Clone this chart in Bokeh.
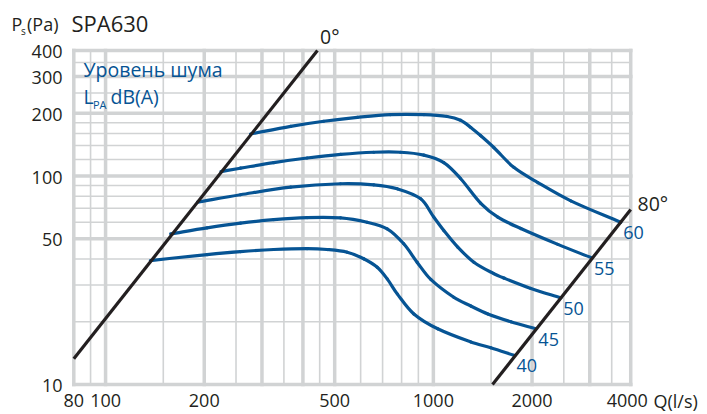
import math
from bokeh.plotting import figure
from bokeh.models import Label
from bokeh.embed import file_html
from bokeh.resources import INLINE

# ---------------- data ----------------
x_ticks = [80, 100, 200, 500, 1000, 2000, 4000]
y_ticks = [10, 50, 100, 200, 300, 400]
x_grid_major = [80, 100, 200, 300, 400, 500, 1000, 2000, 3000, 4000]
x_grid_minor = [90, 150, 250, 350, 450, 600, 700, 800, 900, 1500, 2500, 3500]
y_grid_major = [10, 50, 100, 200, 300, 400]
y_grid_minor = [20, 30, 40, 60, 70, 80, 90, 120, 140, 160, 180, 250, 350]

# system lines (damper 0 deg and 80 deg)
q_0deg = [80, 443]
p_0deg = [13.3, 400]
q_80deg = [1515, 4000]
p_80deg = [10, 69]

# noise level curves LpA dB(A)
levels = ["40", "45", "50", "55", "60"]
q40 = [137, 204, 258, 326, 412, 474, 546, 613, 674, 723, 776, 872, 1031, 1301, 1497, 1762]
p40 = [39.3, 42.0, 43.4, 44.4, 44.8, 44.4, 43.1, 40.1, 36.5, 32.1, 27.2, 21.8, 18.5, 16.0, 15.0, 13.8]
q45 = [158, 204, 258, 326, 412, 521, 628, 723, 812, 893, 982, 1154, 1301, 1466, 1723, 2054]
p45 = [52.8, 56.4, 59.4, 61.8, 63.2, 63.0, 60.0, 55.8, 47.3, 38.5, 31.9, 26.2, 23.8, 21.8, 20.0, 18.5]
q50 = [191, 258, 367, 521, 658, 776, 915, 1003, 1076, 1187, 1329, 1529, 1640, 1983, 2448]
p50 = [75.0, 81.3, 88.4, 91.8, 90.7, 86.8, 77.7, 63.5, 54.8, 45.6, 38.6, 34.0, 32.4, 28.9, 26.0]
q55 = [225, 258, 326, 412, 521, 658, 794, 935, 1076, 1210, 1395, 1573, 1848, 2397, 3037]
p55 = [105, 109, 116, 122, 127, 130, 130, 126, 116, 97.3, 74, 63.5, 56, 47, 40.5]
q60 = [277, 367, 463, 586, 740, 935, 1102, 1210, 1301, 1395, 1529, 1759, 2083, 2626, 3730]
p60 = [159, 173, 183, 191, 197, 197, 193, 185, 171, 156, 137, 110, 93, 76, 60]
curves_q = [q40, q45, q50, q55, q60]
curves_p = [p40, p45, p50, p55, p60]

# ---------------- styles / layout ----------------
BLUE = "#065494"
DARK = "#231f20"
GRID = "#d1d3d4"
FONT = "Open Sans"
W, H = 707, 414
X80_PX, XPD = 73.3, 327.8      # pixel of Q=80, pixels per decade
Y10_PX, YPD = 384.0, 208.5     # pixel (from top) of P=10, pixels per decade

x_start = 80 * 10 ** (-X80_PX / XPD)
x_end = 80 * 10 ** ((W - X80_PX) / XPD)
y_start = 10 * 10 ** (-(H - Y10_PX) / YPD)
y_end = 10 * 10 ** (Y10_PX / YPD)

p = figure(width=W, height=H, x_axis_type="log", y_axis_type="log",
           x_range=(x_start, x_end), y_range=(y_start, y_end),
           x_axis_location=None, y_axis_location=None,
           output_backend="svg", toolbar_location=None,
           min_border=0)
p.grid.visible = False
p.outline_line_color = None
p.background_fill_color = "white"
p.border_fill_color = "white"

qmin, qmax = x_grid_major[0], x_grid_major[-1]
pmin, pmax = y_grid_major[0], y_grid_major[-1]

# grid: thin lines first, then thick ones
p.segment(x0=x_grid_minor, x1=x_grid_minor, y0=[pmin] * len(x_grid_minor), y1=[pmax] * len(x_grid_minor),
          line_color=GRID, line_width=1.6)
p.segment(x0=[qmin] * len(y_grid_minor), x1=[qmax] * len(y_grid_minor), y0=y_grid_minor, y1=y_grid_minor,
          line_color=GRID, line_width=1.6)
p.segment(x0=x_grid_major, x1=x_grid_major, y0=[pmin] * len(x_grid_major), y1=[pmax] * len(x_grid_major),
          line_color=GRID, line_width=3.5, line_cap="square")
p.segment(x0=[qmin] * len(y_grid_major), x1=[qmax] * len(y_grid_major), y0=y_grid_major, y1=y_grid_major,
          line_color=GRID, line_width=3.5, line_cap="square")

def lab(x, y, text, size, color, align="left", xu="screen", yu="screen", **kw):
    p.add_layout(Label(x=x, y=y, x_units=xu, y_units=yu, text=text,
                       text_align=align, text_baseline="middle",
                       text_font=FONT, text_font_size=size, text_color=color, **kw))

# tick labels
for v in x_ticks:
    lab(v, H - 400, str(v), "18px", DARK, align="center", xu="data",
        x_offset=(-3.5 if v == x_ticks[-1] else 0))
for v in y_ticks:
    lab(62, v, str(v), "18px", DARK, align="right", yu="data", y_offset=-1)

# smooth curves through the read points (chord-length Catmull-Rom, drawn as Bezier pieces)
def smooth(qs, ps):
    lx = [math.log10(v) * XPD for v in qs]
    ly = [math.log10(v) * YPD for v in ps]
    n = len(lx)
    t = [0.0]
    for i in range(1, n):
        t.append(t[-1] + math.hypot(lx[i] - lx[i - 1], ly[i] - ly[i - 1]))
    mx, my = [], []
    for i in range(n):
        a, b = max(i - 1, 0), min(i + 1, n - 1)
        dt = t[b] - t[a]
        mx.append((lx[b] - lx[a]) / dt)
        my.append((ly[b] - ly[a]) / dt)
    seg = {k: [] for k in ("x0", "y0", "x1", "y1", "cx0", "cy0", "cx1", "cy1")}
    for i in range(n - 1):
        h = (t[i + 1] - t[i]) / 3
        vals = dict(x0=lx[i], y0=ly[i], x1=lx[i + 1], y1=ly[i + 1],
                    cx0=lx[i] + mx[i] * h, cy0=ly[i] + my[i] * h,
                    cx1=lx[i + 1] - mx[i + 1] * h, cy1=ly[i + 1] - my[i + 1] * h)
        for k, v in vals.items():
            seg[k].append(10 ** (v / (XPD if k.startswith(("x", "cx")) else YPD)))
    return seg

for qs, ps in zip(curves_q, curves_p):
    p.bezier(**smooth(qs, ps), line_color=BLUE, line_width=3.2, line_cap="round")
p.line(q_0deg, p_0deg, line_color=DARK, line_width=3.2)
p.line(q_80deg, p_80deg, line_color=DARK, line_width=3.2)

# level labels at curve ends
for t_, qs, ps in zip(levels, curves_q, curves_p):
    lab(qs[-1], ps[-1], t_, "18px", BLUE, xu="data", yu="data", x_offset=2.5, y_offset=-10.5)

# titles and annotations (x: left edge, y: vertical centre, page pixels from top)
lab(11, H - 23.3, "P", "18px", DARK)
lab(20.5, H - 30, "s", "10px", DARK)
lab(26.5, H - 23.3, "(Pa)", "18px", DARK)
lab(71, H - 22.3, "SPA630", "22px", DARK)
lab(83, H - 68.5, "Уровень шума", "19.5px", BLUE)
lab(83, H - 96, "L", "19.5px", BLUE)
lab(92.5, H - 104, "PA", "11px", BLUE)
lab(110, H - 96, "dB(A)", "19.5px", BLUE)
lab(319.5, H - 35.5, "0°", "19.5px", DARK)
lab(637, H - 203, "80°", "19.5px", DARK)
lab(653, H - 400, "Q(l/s)", "18px", DARK)

open("out.html", "w").write(file_html(p, INLINE))
